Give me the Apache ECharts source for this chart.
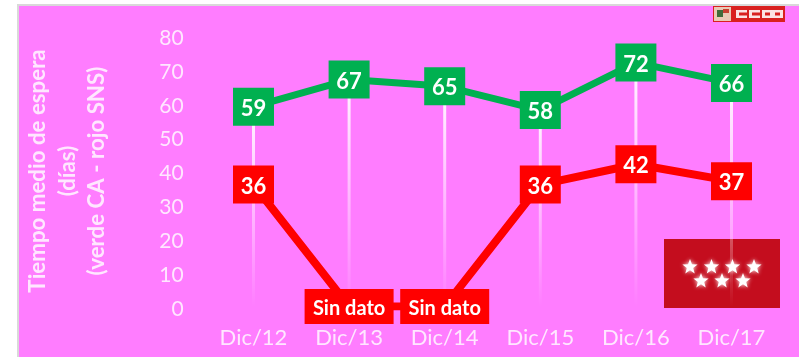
<!DOCTYPE html>
<html>
<head>
<meta charset="utf-8">
<style>
  html, body { margin: 0; padding: 0; background: #fff; }
  #main { width: 799px; height: 357px; }
</style>
<script src="https://cdn.jsdelivr.net/npm/echarts@6/dist/echarts.min.js"></script>
</head>
<body>
<div id="main"></div>
<script>
var categories = ['Dic/12', 'Dic/13', 'Dic/14', 'Dic/15', 'Dic/16', 'Dic/17'];
var greenValues = [59, 67, 65, 58, 72, 66];
// SNS: the two "Sin dato" years sit on the zero line
var redValues = [36, 0, 0, 36, 42, 37];
var redLabels = ['36', 'Sin dato', 'Sin dato', '36', '42', '37'];
var axisTitle = 'Tiempo medio de espera\n(días)\n(verde CA - rojo SNS)';

var paleText = 'rgba(255,255,255,0.82)';
var fontName = 'Lato';

function star(cx, cy, r) {
  var pts = [];
  for (var i = 0; i < 10; i++) {
    var rad = i % 2 ? r * 0.42 : r;
    var a = -Math.PI / 2 + i * Math.PI / 5;
    pts.push([cx + rad * Math.cos(a), cy + rad * Math.sin(a)]);
  }
  return {
    type: 'polygon', z: 1, shape: { points: pts },
    style: { fill: '#fff', shadowBlur: 4, shadowColor: '#fff' }
  };
}

// CCOO block letter: white box with a red hole
function letter(x, open) {
  var parts = [
    { type: 'rect', z: 1, shape: { x: x, y: 10, width: 11, height: 8 }, style: { fill: '#fbe3e3' } },
    { type: 'rect', z: 1, shape: { x: x + 3, y: 12.5, width: open ? 8 : 5, height: 3 }, style: { fill: '#d9201f' } }
  ];
  return parts;
}

var graphics = [
  { type: 'rect', z: 0, shape: { x: 18, y: 5, width: 790, height: 360 },
    style: { fill: '#ff7dff', stroke: '#d9d9d9', lineWidth: 2 } },
  // Comunidad de Madrid flag
  { type: 'rect', z: 1, shape: { x: 664, y: 239, width: 116, height: 69 }, style: { fill: '#c40d1e' } },
  star(690, 267, 8), star(711.5, 267, 8), star(732.5, 267, 8), star(754, 267, 8),
  star(701, 281, 8), star(722, 281, 8), star(743, 281, 8),
  // CCOO logo
  { type: 'rect', z: 1, shape: { x: 713, y: 6, width: 72, height: 16 }, style: { fill: '#d9201f' } },
  { type: 'rect', z: 1, shape: { x: 714, y: 7, width: 17, height: 14 }, style: { fill: '#e9c9b5' } },
  { type: 'rect', z: 1, shape: { x: 717, y: 10, width: 6, height: 7 }, style: { fill: '#3f6b3a' } },
  { type: 'rect', z: 1, shape: { x: 723, y: 9, width: 6, height: 4 }, style: { fill: '#c8402f' } }
].concat(letter(736, true), letter(749, true), letter(762, false), letter(772, false));

var option = {
  animation: false,
  backgroundColor: '#fff',
  graphic: graphics,
  grid: { left: 205.7, right: 19.7, top: 35.5, bottom: 50.5, outerBoundsMode: 'none' },
  xAxis: {
    type: 'category',
    data: categories,
    axisLine: { show: false },
    axisTick: { show: false },
    axisLabel: { color: paleText, fontFamily: fontName, fontSize: 22, margin: 20 }
  },
  yAxis: {
    type: 'value',
    min: 0,
    max: 80,
    interval: 10,
    splitLine: { show: false },
    axisLine: { show: false },
    axisTick: { show: false },
    axisLabel: {
      margin: 22,
      formatter: '{v|{value}}',
      rich: {
        v: { color: paleText, fontFamily: fontName, fontSize: 21, padding: [5, 0, 0, 0] }
      }
    },
    name: axisTitle,
    nameLocation: 'middle',
    nameRotate: 90,
    nameGap: 94,
    nameTextStyle: {
      color: paleText, fontFamily: fontName, fontSize: 22.3, fontWeight: 'bold', lineHeight: 29.5
    }
  },
  series: [
    {
      // drop lines from the green points down to the axis
      type: 'bar',
      data: greenValues,
      barWidth: 3,
      z: 2,
      silent: true,
      itemStyle: {
        color: {
          type: 'linear', x: 0, y: 0, x2: 0, y2: 1,
          colorStops: [
            { offset: 0, color: 'rgba(255,255,255,0.95)' },
            { offset: 1, color: 'rgba(255,255,255,0)' }
          ]
        }
      }
    },
    {
      type: 'line',
      data: greenValues,
      z: 3,
      symbol: 'rect',
      symbolSize: [41, 38],
      showAllSymbol: true,
      itemStyle: { color: '#00b050' },
      lineStyle: { color: '#00b050', width: 7 },
      label: {
        show: true, position: 'inside', color: '#fff', offset: [0, 2],
        fontFamily: fontName, fontWeight: 'bold', fontSize: 22
      }
    },
    {
      type: 'line',
      data: redValues,
      z: 4,
      symbol: 'rect',
      symbolSize: function (value, params) {
        return redLabels[params.dataIndex] === 'Sin dato' ? [89, 35] : [41, 38];
      },
      showAllSymbol: true,
      itemStyle: { color: '#ff0000' },
      lineStyle: { color: '#ff0000', width: 8 },
      label: {
        show: true, position: 'inside', color: '#fff', offset: [0, 2],
        fontFamily: fontName, fontWeight: 'bold',
        rich: {
          num: { fontFamily: fontName, fontWeight: 'bold', fontSize: 22, color: '#fff' },
          txt: { fontFamily: fontName, fontWeight: 'bold', fontSize: 20, color: '#fff' }
        },
        formatter: function (p) {
          var s = redLabels[p.dataIndex];
          return s === 'Sin dato' ? '{txt|' + s + '}' : '{num|' + s + '}';
        }
      }
    }
  ]
};

var chart = echarts.init(document.getElementById('main'));
chart.setOption(option);
</script>
</body>
</html>
